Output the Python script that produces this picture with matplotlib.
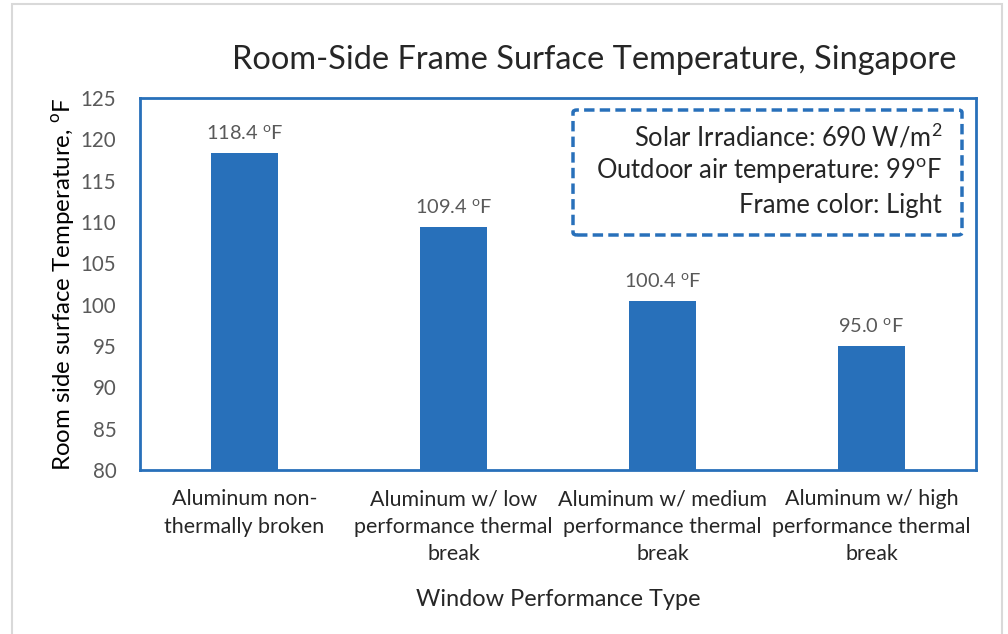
import matplotlib.pyplot as plt
from matplotlib.patches import Rectangle, FancyBboxPatch

plt.rcParams['font.family'] = ['Lato', 'DejaVu Sans']
plt.rcParams['mathtext.fontset'] = 'custom'
plt.rcParams['mathtext.rm'] = 'Lato'

categories = ['Aluminum non-\nthermally broken',
              'Aluminum w/ low\nperformance thermal\nbreak',
              'Aluminum w/ medium\nperformance thermal\nbreak',
              'Aluminum w/ high\nperformance thermal\nbreak']
temps = [118.4, 109.4, 100.4, 95.0]
yticks = [80, 85, 90, 95, 100, 105, 110, 115, 120, 125]
notes = ['Solar Irradiance: 690 W/m$^{2}$',
         'Outdoor air temperature: 99$^{\\mathrm{o}}$F',
         'Frame color: Light']

blue = '#2870BA'

fig = plt.figure(figsize=(10.08, 6.34), dpi=100)
ax = fig.add_axes([140/1008, 1-470/634, 836/1008, 372/634])

x = range(len(categories))
ax.bar(x, temps, width=0.32, color=blue, zorder=2)
for xi, t in zip(x, temps):
    ax.text(xi, t + 1.2, '%.1f $^{\\mathrm{o}}$F' % t, ha='center', va='bottom',
            fontsize=14.4, color='#595959')

ax.set_xlim(-0.5, 3.5)
ax.set_ylim(80, 125)
ax.set_yticks(yticks)
ax.set_xticks(list(x))
ax.set_xticklabels(categories, fontsize=15.4, color='#262626', linespacing=1.45)
ax.tick_params(axis='y', length=0, labelsize=14.8, labelcolor='#595959', pad=17)
ax.tick_params(axis='x', length=0, pad=14)
for s in ax.spines.values():
    s.set_color(blue)
    s.set_linewidth(2)

ax.set_ylabel('Room side surface Temperature, $^{\\mathrm{o}}$F', fontsize=17.3,
              color='#000000', labelpad=2)
ax.set_xlabel('Window Performance Type', fontsize=16.9, color='#262626', labelpad=18)

fig.text(594/1008, 1-60/634, 'Room-Side Frame Surface Temperature, Singapore',
         ha='center', va='center', fontsize=23.4, color='#262626')

# dashed note box
box = FancyBboxPatch((573/1008, 1-235/634), 389/1008, 125/634,
                     boxstyle='round,pad=0,rounding_size=0.004',
                     transform=fig.transFigure, fill=False, edgecolor=blue,
                     linewidth=2.5, linestyle=(0, (3, 1.5)))
fig.patches.append(box)
for i, line in enumerate(notes):
    fig.text(942/1008, 1-(137 + 34.5*i)/634, line, ha='right', va='center',
             fontsize=18.4, color='#262626')

# outer chart border
fig.patches.append(Rectangle((12/1008, -0.01), 990/1008, 1.01-4/634,
                             transform=fig.transFigure, fill=False,
                             edgecolor='#D9D9D9', linewidth=1.5))

fig.savefig('out.png', dpi=100)
